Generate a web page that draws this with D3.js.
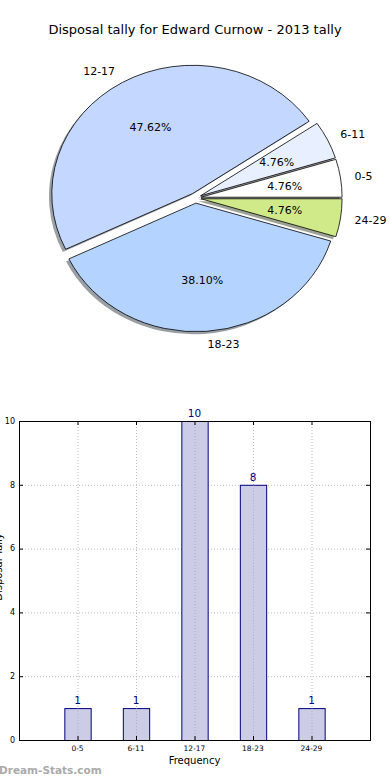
<!DOCTYPE html>
<html>
<head>
<meta charset="utf-8">
<script src="https://cdn.jsdelivr.net/npm/d3@7"></script>
<style>
  html, body { margin: 0; padding: 0; background: #fff; }
  svg { display: block; font-family: "DejaVu Sans", sans-serif; }
</style>
</head>
<body>
<svg id="chart" width="390" height="780"></svg>
<script>
const title = 'Disposal tally for Edward Curnow - 2013 tally';
const categories = ['0-5', '6-11', '12-17', '18-23', '24-29'];
const tallies = [1, 1, 10, 8, 1];
const sliceColors = ['#ffffff', '#e8f0ff', '#c4d8ff', '#b4d4ff', '#d0ea8a'];
const yTicks = [0, 2, 4, 6, 8, 10];
const xLabel = 'Frequency';
const yLabel = 'Disposal Tally';

const svg = d3.select('#chart');

svg.append('text')
    .attr('x', 195).attr('y', 34)
    .attr('text-anchor', 'middle')
    .attr('font-size', '13px')
    .text(title);

// ---- pie (matplotlib style: counter-clockwise from east, squashed to an ellipse)
const cx = 195.5, cy = 198, rx = 141, ry = 128.5, explode = 0.04;
const total = d3.sum(tallies);
const pie = d3.pie().sort(null).startAngle(0).endAngle(2 * Math.PI)(tallies);
// d3 angles -> mpl angles (ccw from east)
const wedges = pie.map((p, i) => {
    const t0 = p.startAngle, t1 = p.endAngle, tm = (t0 + t1) / 2;
    const ox = explode * rx * Math.cos(tm), oy = -explode * ry * Math.sin(tm);
    return { i, t0, t1, tm, x: cx + ox, y: cy + oy, value: p.value };
});
const arc = d3.arc().innerRadius(0).outerRadius(1);
const arcPath = w => arc({ startAngle: Math.PI / 2 - w.t1, endAngle: Math.PI / 2 - w.t0 });

const gPie = svg.append('g');
// shadows first
wedges.forEach(w => {
    const c = d3.rgb(sliceColors[w.i]);
    gPie.append('path')
        .attr('d', arcPath(w))
        .attr('transform', `translate(${w.x - 0.02 * rx},${w.y + 0.02 * ry}) scale(${rx},${ry})`)
        .attr('fill', d3.rgb(c.r * 0.3, c.g * 0.3, c.b * 0.3))
        .attr('fill-opacity', 0.5);
});
wedges.forEach(w => {
    gPie.append('path')
        .attr('d', arcPath(w))
        .attr('transform', `translate(${w.x},${w.y}) scale(${rx},${ry})`)
        .attr('fill', sliceColors[w.i])
        .attr('stroke', '#000')
        .attr('stroke-width', 0.8)
        .attr('vector-effect', 'non-scaling-stroke');
});
wedges.forEach(w => {
    const c = Math.cos(w.tm), s = Math.sin(w.tm);
    gPie.append('text')
        .attr('x', w.x + 1.1 * rx * c)
        .attr('y', w.y - 1.1 * ry * s)
        .attr('dy', '0.35em')
        .attr('text-anchor', c > 0 ? 'start' : 'end')
        .attr('font-size', '11px')
        .text(categories[w.i]);
    gPie.append('text')
        .attr('x', w.x + 0.6 * rx * c)
        .attr('y', w.y - 0.6 * ry * s)
        .attr('dy', '0.35em')
        .attr('text-anchor', 'middle')
        .attr('font-size', '11px')
        .text((100 * w.value / total).toFixed(2) + '%');
});

// ---- bar chart
const pLeft = 19, pRight = 370, pTop = 421, pBottom = 740;
const x = d3.scaleLinear().domain([-1, 5]).range([pLeft, pRight]);
const y = d3.scaleLinear().domain([0, 10]).range([pBottom, pTop]);
const barW = 0.45;

const gBar = svg.append('g');

// grid
gBar.append('g').selectAll('line').data(yTicks).join('line')
    .attr('x1', pLeft).attr('x2', pRight)
    .attr('y1', d => y(d) + 0.5).attr('y2', d => y(d) + 0.5)
    .attr('stroke', '#bbb').attr('stroke-dasharray', '1,2');
gBar.append('g').selectAll('line').data(categories).join('line')
    .attr('x1', (d, i) => x(i) + 0.5).attr('x2', (d, i) => x(i) + 0.5)
    .attr('y1', pTop).attr('y2', pBottom)
    .attr('stroke', '#bbb').attr('stroke-dasharray', '1,2');

gBar.append('g').selectAll('rect').data(tallies).join('rect')
    .attr('x', (d, i) => x(i - barW / 2) + 0.5)
    .attr('width', x(barW) - x(0))
    .attr('y', d => y(d) + 0.5)
    .attr('height', d => y(0) - y(d))
    .attr('fill', '#ccccE6')
    .attr('stroke', '#000080')
    .attr('stroke-width', 1);

// vertical grid shows through bars
gBar.append('g').selectAll('line').data(categories).join('line')
    .attr('x1', (d, i) => x(i) + 0.5).attr('x2', (d, i) => x(i) + 0.5)
    .attr('y1', (d, i) => y(tallies[i])).attr('y2', pBottom)
    .attr('stroke', '#999').attr('stroke-opacity', 0.6).attr('stroke-dasharray', '1,2');

gBar.append('g').selectAll('text').data(tallies).join('text')
    .attr('x', (d, i) => x(i))
    .attr('y', d => y(d) - 4)
    .attr('text-anchor', 'middle')
    .attr('font-size', '10.5px')
    .attr('fill', '#000080')
    .text(d => d);

// frame
gBar.append('rect')
    .attr('x', pLeft + 0.5).attr('y', pTop + 0.5)
    .attr('width', pRight - pLeft).attr('height', pBottom - pTop)
    .attr('fill', 'none').attr('stroke', '#000').attr('stroke-width', 1);

// ticks (inside, on all four sides)
const ticks = gBar.append('g').attr('stroke', '#000');
yTicks.forEach(t => {
    ticks.append('line').attr('x1', pLeft).attr('x2', pLeft + 4).attr('y1', y(t) + 0.5).attr('y2', y(t) + 0.5);
    ticks.append('line').attr('x1', pRight - 4).attr('x2', pRight).attr('y1', y(t) + 0.5).attr('y2', y(t) + 0.5);
});
categories.forEach((c, i) => {
    ticks.append('line').attr('x1', x(i) + 0.5).attr('x2', x(i) + 0.5).attr('y1', pBottom).attr('y2', pBottom - 4);
    ticks.append('line').attr('x1', x(i) + 0.5).attr('x2', x(i) + 0.5).attr('y1', pTop).attr('y2', pTop + 4);
});

gBar.append('g').selectAll('text').data(yTicks).join('text')
    .attr('x', pLeft - 4)
    .attr('y', d => y(d))
    .attr('dy', '0.35em')
    .attr('text-anchor', 'end')
    .attr('font-size', '8px')
    .text(d => d);

gBar.append('g').selectAll('text').data(categories).join('text')
    .attr('x', (d, i) => x(i))
    .attr('y', pBottom + 11)
    .attr('text-anchor', 'middle')
    .attr('font-size', '7.5px')
    .text(d => d);

svg.append('text')
    .attr('x', x(2)).attr('y', 764)
    .attr('text-anchor', 'middle')
    .attr('font-size', '10px')
    .text(xLabel);

// y label sits mostly past the left edge, as in the source image
svg.append('text')
    .attr('transform', 'translate(2,567) rotate(-90)')
    .attr('text-anchor', 'middle')
    .attr('font-size', '10px')
    .text(yLabel);

svg.append('text')
    .attr('x', -1).attr('y', 774)
    .attr('font-size', '10.5px')
    .attr('font-weight', 'bold')
    .attr('fill', '#aaa')
    .text('Dream-Stats.com');
</script>
</body>
</html>
